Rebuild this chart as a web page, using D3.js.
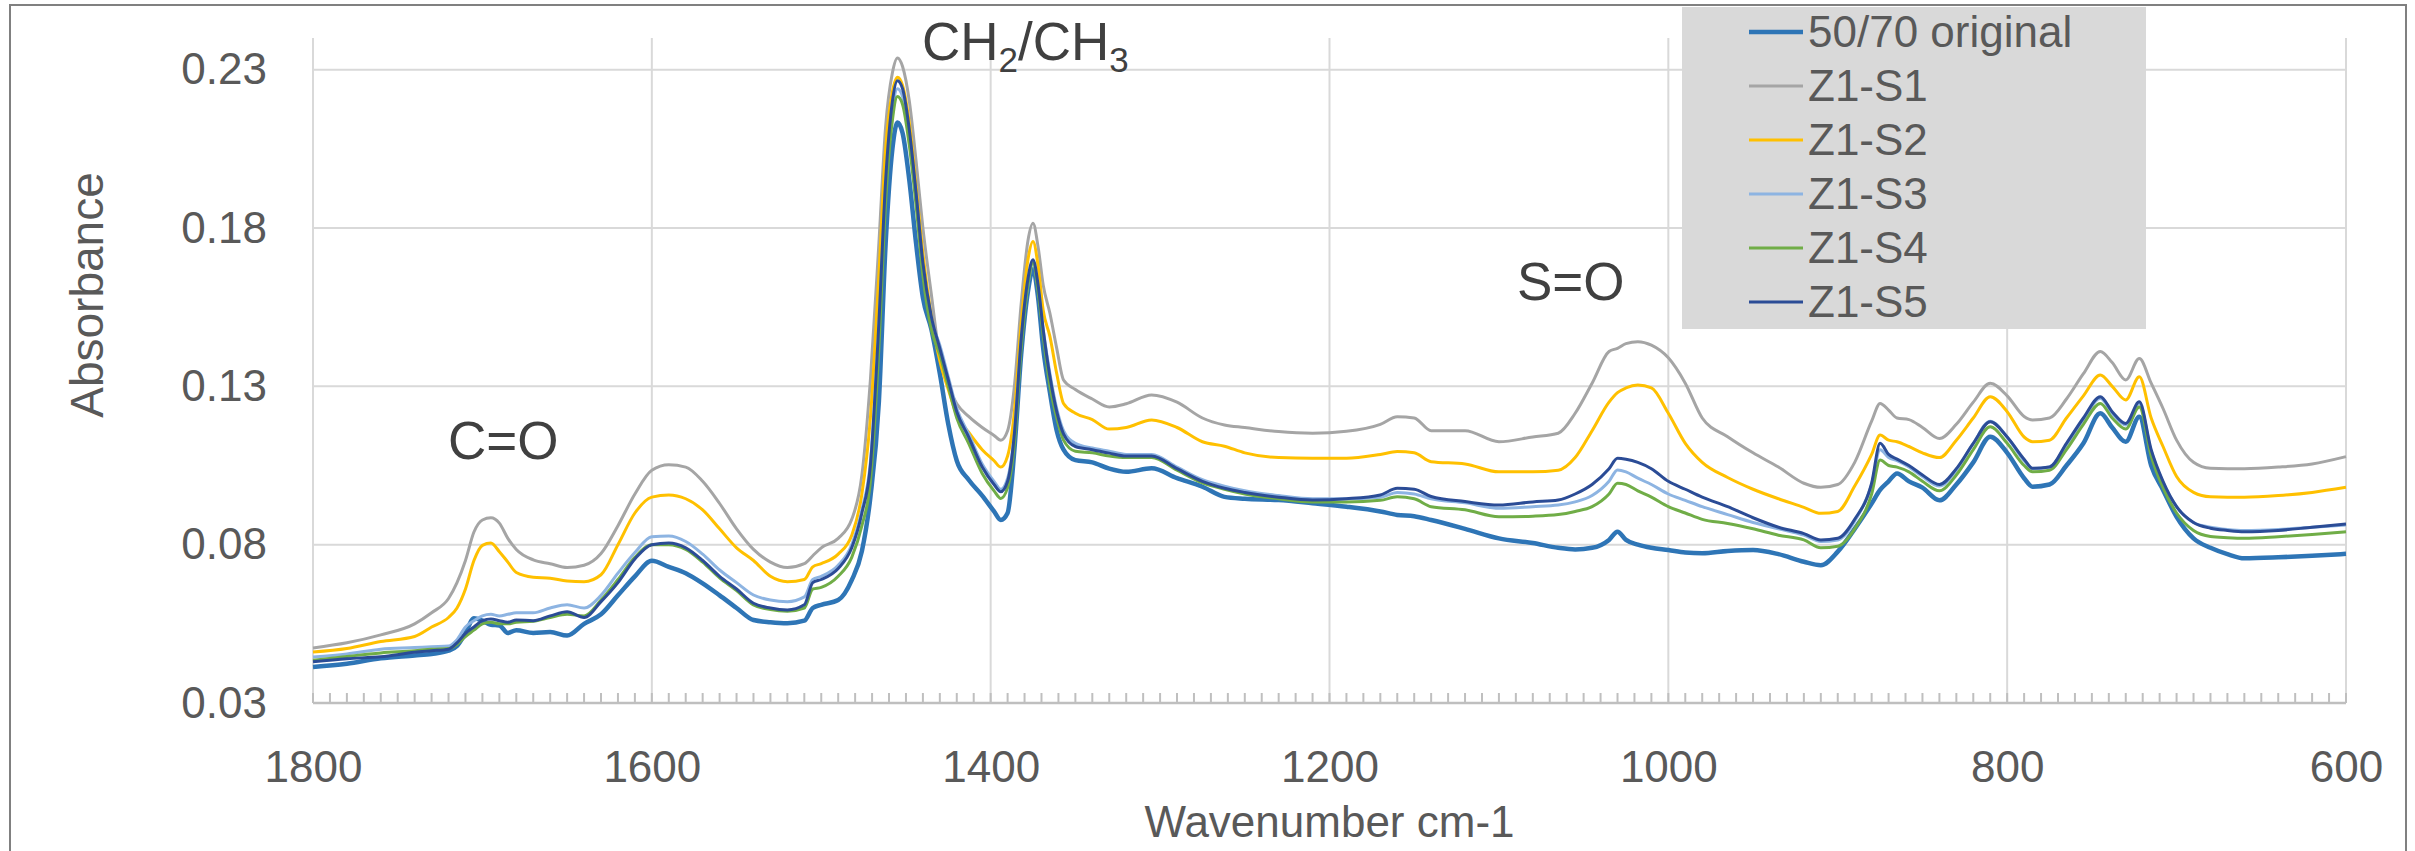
<!DOCTYPE html>
<html>
<head>
<meta charset="utf-8">
<script src="https://cdn.jsdelivr.net/npm/d3@7"></script>
<style>
  body { margin: 0; background: #fff; }
</style>
</head>
<body>
<div id="chart"></div>
<script>
// Wavenumbers (cm-1), shared by every spectrum
var wavenumbers = [
  1800, 1780, 1760, 1740, 1730, 1720, 1715, 1710, 1705, 1700,
  1695, 1690, 1685, 1680, 1670, 1660, 1650, 1640, 1630, 1620,
  1610, 1600, 1590, 1580, 1570, 1560, 1550, 1540, 1530, 1520,
  1510, 1505, 1500, 1490, 1482, 1476, 1471, 1466, 1462, 1458,
  1455, 1452, 1448, 1444, 1440, 1435, 1430, 1425, 1420, 1413,
  1405, 1398, 1394, 1390, 1386, 1382, 1378, 1375, 1372, 1369,
  1365, 1361, 1357, 1350, 1340, 1330, 1320, 1305, 1290, 1275,
  1262, 1250, 1230, 1210, 1190, 1170, 1160, 1150, 1140, 1120,
  1100, 1080, 1065, 1055, 1045, 1035, 1030, 1025, 1018, 1010,
  1000, 990, 980, 965, 950, 935, 920, 910, 900, 890,
  880, 875, 870, 865, 858, 850, 840, 830, 820, 810,
  800, 790, 785, 775, 765, 755, 745, 738, 730, 722,
  715, 708, 700, 690, 680, 670, 660, 640, 620, 600
];

var original = [
  0.0414, 0.0424, 0.0441, 0.0450, 0.0455, 0.0465, 0.0480, 0.0521, 0.0568, 0.0560,
  0.0547, 0.0545, 0.0521, 0.0530, 0.0521, 0.0524, 0.0513, 0.0550, 0.0580, 0.0640,
  0.0700, 0.0749, 0.0730, 0.0710, 0.0678, 0.0640, 0.0600, 0.0562, 0.0555, 0.0552,
  0.0560, 0.0600, 0.0610, 0.0625, 0.0688, 0.0780, 0.0950, 0.1250, 0.1750, 0.2050,
  0.2133, 0.2100, 0.1950, 0.1750, 0.1580, 0.1480, 0.1340, 0.1180, 0.1065, 0.1005,
  0.0955, 0.0905, 0.0878, 0.0900, 0.1100, 0.1400, 0.1600, 0.1670, 0.1580, 0.1420,
  0.1280, 0.1160, 0.1100, 0.1067, 0.1060, 0.1040, 0.1030, 0.1041, 0.1010, 0.0983,
  0.0951, 0.0945, 0.0941, 0.0931, 0.0920, 0.0905, 0.0894, 0.0890, 0.0878, 0.0850,
  0.0820, 0.0805, 0.0790, 0.0785, 0.0790, 0.0815, 0.0841, 0.0815, 0.0800, 0.0790,
  0.0783, 0.0775, 0.0773, 0.0780, 0.0783, 0.0770, 0.0746, 0.0735, 0.0778, 0.0850,
  0.0930, 0.0973, 0.1000, 0.1025, 0.1000, 0.0980, 0.0940, 0.0990, 0.1060, 0.1141,
  0.1090, 0.1010, 0.0983, 0.0990, 0.1050, 0.1120, 0.1215, 0.1170, 0.1125, 0.1204,
  0.1050, 0.0973, 0.0888, 0.0820, 0.0790, 0.0770, 0.0757, 0.0760, 0.0765, 0.0771
];

var z1s1 = [
  0.0474, 0.0490, 0.0515, 0.0550, 0.0585, 0.0630, 0.0680, 0.0750, 0.0840, 0.0878,
  0.0885, 0.0868, 0.0820, 0.0785, 0.0752, 0.0740, 0.0728, 0.0735, 0.0772, 0.0860,
  0.0960, 0.1035, 0.1052, 0.1045, 0.1000, 0.0930, 0.0850, 0.0785, 0.0745, 0.0728,
  0.0740, 0.0765, 0.0790, 0.0820, 0.0880, 0.1020, 0.1320, 0.1750, 0.2120, 0.2290,
  0.2337, 0.2310, 0.2200, 0.2010, 0.1800, 0.1590, 0.1390, 0.1300, 0.1245, 0.1205,
  0.1170, 0.1145, 0.1130, 0.1160, 0.1300, 0.1560, 0.1760, 0.1815, 0.1740, 0.1620,
  0.1530, 0.1420, 0.1320, 0.1290, 0.1260, 0.1235, 0.1245, 0.1273, 0.1250, 0.1200,
  0.1178, 0.1170, 0.1157, 0.1152, 0.1158, 0.1180, 0.1204, 0.1200, 0.1160, 0.1160,
  0.1125, 0.1140, 0.1152, 0.1215, 0.1310, 0.1410, 0.1420, 0.1435, 0.1441, 0.1430,
  0.1390, 0.1310, 0.1200, 0.1141, 0.1090, 0.1045, 0.0994, 0.0981, 0.0990, 0.1060,
  0.1190, 0.1246, 0.1225, 0.1200, 0.1195, 0.1170, 0.1135, 0.1180, 0.1250, 0.1310,
  0.1270, 0.1205, 0.1194, 0.1200, 0.1260, 0.1340, 0.1410, 0.1375, 0.1320, 0.1388,
  0.1310, 0.1230, 0.1130, 0.1060, 0.1041, 0.1040, 0.1040, 0.1045, 0.1055, 0.1078
];

var z1s2 = [
  0.0461, 0.0472, 0.0494, 0.0510, 0.0540, 0.0570, 0.0600, 0.0660, 0.0750, 0.0798,
  0.0805, 0.0778, 0.0745, 0.0712, 0.0697, 0.0694, 0.0685, 0.0683, 0.0705, 0.0800,
  0.0900, 0.0950, 0.0957, 0.0945, 0.0910, 0.0850, 0.0790, 0.0750, 0.0700, 0.0683,
  0.0690, 0.0730, 0.0740, 0.0770, 0.0830, 0.0960, 0.1200, 0.1650, 0.2050, 0.2230,
  0.2276, 0.2250, 0.2130, 0.1930, 0.1720, 0.1520, 0.1380, 0.1290, 0.1210, 0.1155,
  0.1100, 0.1065, 0.1045, 0.1080, 0.1220, 0.1500, 0.1700, 0.1757, 0.1680, 0.1540,
  0.1457, 0.1340, 0.1246, 0.1215, 0.1195, 0.1165, 0.1170, 0.1194, 0.1170, 0.1125,
  0.1111, 0.1090, 0.1075, 0.1073, 0.1073, 0.1085, 0.1094, 0.1090, 0.1062, 0.1055,
  0.1030, 0.1030, 0.1035, 0.1075, 0.1160, 0.1250, 0.1280, 0.1295, 0.1304, 0.1295,
  0.1215, 0.1120, 0.1060, 0.1012, 0.0975, 0.0945, 0.0918, 0.0899, 0.0905, 0.0985,
  0.1085, 0.1146, 0.1130, 0.1125, 0.1110, 0.1090, 0.1075, 0.1130, 0.1200, 0.1267,
  0.1220, 0.1140, 0.1125, 0.1130, 0.1200, 0.1270, 0.1336, 0.1300, 0.1257, 0.1330,
  0.1200, 0.1110, 0.1015, 0.0965, 0.0951, 0.0950, 0.0950, 0.0955, 0.0965, 0.0981
];

var z1s3 = [
  0.0445, 0.0455, 0.0470, 0.0475, 0.0478, 0.0480, 0.0500, 0.0540, 0.0560, 0.0575,
  0.0580, 0.0575, 0.0580, 0.0585, 0.0585, 0.0600, 0.0610, 0.0600, 0.0640, 0.0710,
  0.0775, 0.0825, 0.0827, 0.0810, 0.0770, 0.0720, 0.0680, 0.0641, 0.0625, 0.0620,
  0.0635, 0.0690, 0.0700, 0.0735, 0.0800, 0.0910, 0.1060, 0.1480, 0.1920, 0.2170,
  0.2240, 0.2215, 0.2090, 0.1900, 0.1680, 0.1510, 0.1430, 0.1330, 0.1230, 0.1150,
  0.1055, 0.1000, 0.0975, 0.1010, 0.1150, 0.1440, 0.1620, 0.1690, 0.1610, 0.1480,
  0.1340, 0.1230, 0.1160, 0.1120, 0.1105, 0.1095, 0.1085, 0.1085, 0.1045, 0.1005,
  0.0985, 0.0970, 0.0955, 0.0945, 0.0945, 0.0950, 0.0965, 0.0960, 0.0945, 0.0932,
  0.0915, 0.0920, 0.0925, 0.0935, 0.0955, 0.1000, 0.1036, 0.1030, 0.1010, 0.0990,
  0.0960, 0.0940, 0.0920, 0.0895, 0.0870, 0.0850, 0.0830, 0.0810, 0.0815, 0.0875,
  0.0990, 0.1100, 0.1075, 0.1065, 0.1045, 0.1015, 0.0985, 0.1035, 0.1120, 0.1190,
  0.1140, 0.1065, 0.1040, 0.1045, 0.1115, 0.1195, 0.1262, 0.1215, 0.1178, 0.1245,
  0.1095, 0.0995, 0.0920, 0.0870, 0.0855, 0.0848, 0.0845, 0.0848, 0.0855, 0.0862
];

var z1s4 = [
  0.0435, 0.0447, 0.0458, 0.0465, 0.0470, 0.0472, 0.0485, 0.0510, 0.0530, 0.0550,
  0.0555, 0.0550, 0.0550, 0.0555, 0.0558, 0.0570, 0.0580, 0.0575, 0.0625, 0.0690,
  0.0760, 0.0800, 0.0800, 0.0785, 0.0745, 0.0695, 0.0655, 0.0610, 0.0595, 0.0590,
  0.0600, 0.0660, 0.0665, 0.0700, 0.0760, 0.0860, 0.1000, 0.1420, 0.1880, 0.2140,
  0.2215, 0.2190, 0.2060, 0.1870, 0.1650, 0.1480, 0.1400, 0.1300, 0.1200, 0.1120,
  0.1025, 0.0970, 0.0946, 0.0980, 0.1120, 0.1420, 0.1620, 0.1690, 0.1600, 0.1460,
  0.1300, 0.1200, 0.1130, 0.1095, 0.1090, 0.1080, 0.1075, 0.1075, 0.1035, 0.0995,
  0.0975, 0.0960, 0.0945, 0.0935, 0.0935, 0.0940, 0.0951, 0.0945, 0.0920, 0.0910,
  0.0888, 0.0890, 0.0895, 0.0905, 0.0920, 0.0960, 0.0994, 0.0990, 0.0970, 0.0950,
  0.0920, 0.0900, 0.0880, 0.0867, 0.0850, 0.0830, 0.0815, 0.0790, 0.0795, 0.0850,
  0.0960, 0.1067, 0.1050, 0.1045, 0.1030, 0.1000, 0.0970, 0.1020, 0.1100, 0.1172,
  0.1120, 0.1050, 0.1030, 0.1035, 0.1100, 0.1180, 0.1246, 0.1200, 0.1165, 0.1235,
  0.1080, 0.0980, 0.0900, 0.0845, 0.0826, 0.0822, 0.0820, 0.0825, 0.0832, 0.0841
];

var z1s5 = [
  0.0430, 0.0440, 0.0446, 0.0460, 0.0465, 0.0470, 0.0490, 0.0520, 0.0540, 0.0560,
  0.0565, 0.0560, 0.0555, 0.0562, 0.0560, 0.0575, 0.0588, 0.0570, 0.0620, 0.0680,
  0.0755, 0.0800, 0.0805, 0.0790, 0.0750, 0.0700, 0.0660, 0.0615, 0.0600, 0.0594,
  0.0610, 0.0680, 0.0690, 0.0725, 0.0790, 0.0900, 0.1050, 0.1500, 0.1950, 0.2200,
  0.2265, 0.2240, 0.2110, 0.1910, 0.1690, 0.1520, 0.1420, 0.1320, 0.1220, 0.1140,
  0.1045, 0.0990, 0.0967, 0.1000, 0.1150, 0.1450, 0.1640, 0.1700, 0.1620, 0.1480,
  0.1330, 0.1220, 0.1150, 0.1110, 0.1100, 0.1089, 0.1080, 0.1080, 0.1040, 0.1000,
  0.0978, 0.0965, 0.0950, 0.0941, 0.0945, 0.0957, 0.0978, 0.0975, 0.0952, 0.0936,
  0.0925, 0.0935, 0.0941, 0.0960, 0.0990, 0.1040, 0.1073, 0.1070, 0.1060, 0.1040,
  0.1000, 0.0975, 0.0950, 0.0920, 0.0885, 0.0855, 0.0835, 0.0815, 0.0820, 0.0880,
  0.0994, 0.1120, 0.1085, 0.1070, 0.1050, 0.1020, 0.0990, 0.1040, 0.1120, 0.1188,
  0.1140, 0.1070, 0.1041, 0.1045, 0.1120, 0.1200, 0.1267, 0.1220, 0.1183, 0.1251,
  0.1100, 0.1000, 0.0920, 0.0870, 0.0852, 0.0845, 0.0841, 0.0845, 0.0855, 0.0865
];

var seriesNames = ["50/70 original", "Z1-S1", "Z1-S2", "Z1-S3", "Z1-S4", "Z1-S5"];
var seriesValues = [original, z1s1, z1s2, z1s3, z1s4, z1s5];
var seriesColors = ["#2e75b6", "#a5a5a5", "#ffc000", "#8db4e2", "#70ad47", "#2b4c96"];

var xTicks = [1800, 1600, 1400, 1200, 1000, 800, 600];
var yTicks = [0.03, 0.08, 0.13, 0.18, 0.23];

// Set the svg width and height
var svgWidth = 2415;
var svgHeight = 851;

var margin = {
  top: 38,
  right: 69,
  bottom: 148,
  left: 313
};

var width = svgWidth - margin.left - margin.right;
var height = svgHeight - margin.top - margin.bottom;

var font = "'Liberation Sans', Arial, sans-serif";

var svg = d3.select("#chart")
  .append("svg")
  .attr("width", svgWidth)
  .attr("height", svgHeight)
  .style("display", "block");

svg.append("rect")
  .attr("width", svgWidth)
  .attr("height", svgHeight)
  .attr("fill", "#fff");

// chart border
svg.append("rect")
  .attr("x", 10)
  .attr("y", 5)
  .attr("width", 2396)
  .attr("height", 880)
  .attr("fill", "none")
  .attr("stroke", "#808080")
  .attr("stroke-width", 2);

var chartGroup = svg.append("g")
  .attr("transform", `translate(${margin.left}, ${margin.top})`);

// scales
var xScale = d3.scaleLinear()
  .domain([1800, 600])
  .range([0, width]);

var yScale = d3.scaleLinear()
  .domain([0.03, 0.24])
  .range([height, 0]);

// horizontal gridlines
chartGroup.selectAll(".hgrid")
  .data(yTicks.slice(1))
  .enter()
  .append("line")
  .attr("x1", 0)
  .attr("x2", width)
  .attr("y1", d => yScale(d))
  .attr("y2", d => yScale(d))
  .attr("stroke", "#d9d9d9")
  .attr("stroke-width", 2);

// vertical gridlines (including the left axis line)
chartGroup.selectAll(".vgrid")
  .data(xTicks)
  .enter()
  .append("line")
  .attr("x1", d => xScale(d))
  .attr("x2", d => xScale(d))
  .attr("y1", 0)
  .attr("y2", height)
  .attr("stroke", "#d9d9d9")
  .attr("stroke-width", 2);

// minor ticks on the x axis, every 10 cm-1, pointing inward
chartGroup.selectAll(".minor")
  .data(d3.range(600, 1801, 10))
  .enter()
  .append("line")
  .attr("x1", d => xScale(d))
  .attr("x2", d => xScale(d))
  .attr("y1", height)
  .attr("y2", height - 10)
  .attr("stroke", "#bfbfbf")
  .attr("stroke-width", 2);

chartGroup.append("line")
  .attr("x1", 0)
  .attr("x2", width)
  .attr("y1", height)
  .attr("y2", height)
  .attr("stroke", "#bfbfbf")
  .attr("stroke-width", 2.5);

// axes labels
var bottomAxis = d3.axisBottom(xScale)
  .tickValues(xTicks)
  .tickSize(0)
  .tickPadding(48)
  .tickFormat(d3.format("d"));

var leftAxis = d3.axisLeft(yScale)
  .tickValues(yTicks)
  .tickSize(0)
  .tickPadding(46)
  .tickFormat(d3.format(".2f"));

var xAxisG = chartGroup.append("g")
  .attr("transform", `translate(0, ${height})`)
  .call(bottomAxis);

var yAxisG = chartGroup.append("g")
  .call(leftAxis);

[xAxisG, yAxisG].forEach(function(g) {
  g.select(".domain").remove();
  g.attr("font-family", font).attr("font-size", 44);
  g.selectAll("text").attr("fill", "#595959");
});

// spectra
var line = d3.line()
  .x((d, i) => xScale(wavenumbers[i]))
  .y(d => yScale(d))
  .curve(d3.curveMonotoneX);

seriesValues.forEach(function(values, i) {
  chartGroup.append("path")
    .datum(values)
    .attr("fill", "none")
    .attr("stroke", seriesColors[i])
    .attr("stroke-width", i === 0 ? 4.5 : 3)
    .attr("stroke-linejoin", "round")
    .attr("d", line);
});

// axis titles
svg.append("text")
  .attr("x", margin.left + width / 2)
  .attr("y", 837)
  .attr("text-anchor", "middle")
  .attr("font-family", font)
  .attr("font-size", 44)
  .attr("fill", "#595959")
  .text("Wavenumber cm-1");

svg.append("text")
  .attr("transform", "translate(103, 295) rotate(-90)")
  .attr("text-anchor", "middle")
  .attr("font-family", font)
  .attr("font-size", 46)
  .attr("fill", "#595959")
  .text("Absorbance");

// band annotations
var annot = svg.append("g")
  .attr("font-family", font)
  .attr("font-size", 53)
  .attr("fill", "#404040");

annot.append("text").attr("x", 448).attr("y", 459).text("C=O");
annot.append("text").attr("x", 1517).attr("y", 300).text("S=O");

var ch = annot.append("text").attr("x", 922).attr("y", 60);
ch.append("tspan").text("CH");
ch.append("tspan").attr("font-size", 35).attr("dy", 12).text("2");
ch.append("tspan").attr("dy", -12).text("/CH");
ch.append("tspan").attr("font-size", 35).attr("dy", 12).text("3");

// legend
var legend = svg.append("g");

legend.append("rect")
  .attr("x", 1682)
  .attr("y", 7)
  .attr("width", 464)
  .attr("height", 322)
  .attr("fill", "#d9d9d9");

var items = legend.selectAll(".item")
  .data(seriesNames)
  .enter()
  .append("g")
  .attr("transform", (d, i) => `translate(0, ${32 + i * 54})`);

items.append("line")
  .attr("x1", 1749)
  .attr("x2", 1803)
  .attr("stroke", (d, i) => seriesColors[i])
  .attr("stroke-width", (d, i) => i === 0 ? 4.5 : 3);

items.append("text")
  .attr("x", 1808)
  .attr("y", 15)
  .attr("font-family", font)
  .attr("font-size", 44)
  .attr("fill", "#595959")
  .text(d => d);
</script>
</body>
</html>
